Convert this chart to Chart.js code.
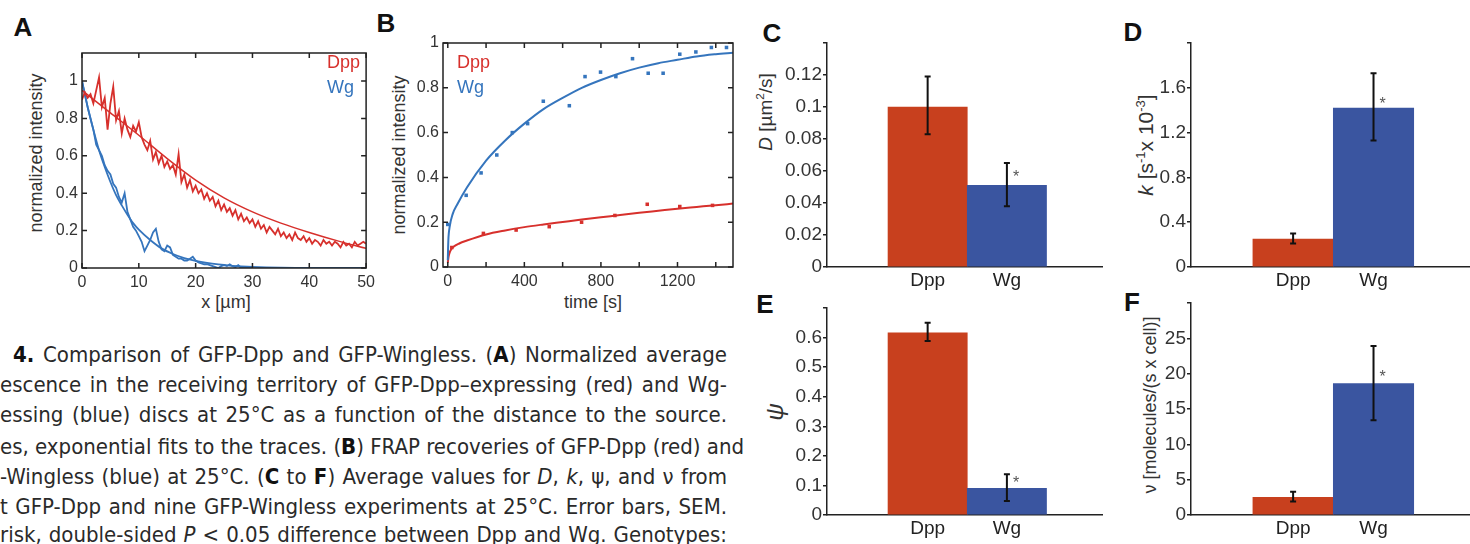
<!DOCTYPE html>
<html>
<head>
<meta charset="utf-8">
<script src="https://cdn.jsdelivr.net/npm/chart.js@4.4.1/dist/chart.umd.min.js"></script>
<style>
  body { margin: 0; width: 1470px; height: 544px; overflow: hidden; background: #fff; position: relative;
         font-family: 'Liberation Sans', Arial, sans-serif; }
  canvas { position: absolute; }
  .lbl { position: absolute; font-weight: bold; font-size: 26px; color: #111; line-height: 1; transform: translate(-50%, -50%); }
  .ttl { position: absolute; white-space: nowrap; color: #333; line-height: 1; transform: translate(-50%, -50%); }
  .rot { transform: translate(-50%, -50%) rotate(-90deg); }
  .ttl sup { font-size: 0.62em; vertical-align: super; line-height: 0; }
  .cap { position: absolute; font-family: 'Liberation Sans Narrow', 'DejaVu Sans Condensed', sans-serif; font-size: 22px;
         color: #2a2a2a; white-space: nowrap; text-align: justify; text-align-last: justify; line-height: 26px; }
  .cap b { color: #111; }
</style>
</head>
<body>

<!-- panel letters -->
<div class="lbl" style="left:23px;top:27px">A</div>
<div class="lbl" style="left:386px;top:23px">B</div>
<div class="lbl" style="left:772px;top:33px">C</div>
<div class="lbl" style="left:1133px;top:32px">D</div>
<div class="lbl" style="left:765px;top:304px">E</div>
<div class="lbl" style="left:1132px;top:302px">F</div>

<!-- axis titles -->
<div class="ttl rot" style="left:36px;top:153px;font-size:18px">normalized intensity</div>
<div class="ttl rot" style="left:399px;top:155px;font-size:18px">normalized intensity</div>
<div class="ttl" style="left:226px;top:302px;font-size:18px">x [µm]</div>
<div class="ttl" style="left:593px;top:302px;font-size:18px">time [s]</div>
<div class="ttl rot" style="left:765px;top:112px;font-size:19px"><i>D</i> [µm<sup>2</sup>/s]</div>
<div class="ttl rot" style="left:1145px;top:145px;font-size:21px"><i>k</i> [s<sup>-1</sup>x 10<sup>-3</sup>]</div>
<div class="ttl rot" style="left:775px;top:412px;font-size:24px"><i>ψ</i></div>
<div class="ttl rot" style="left:1150px;top:405px;font-size:18px">ν [molecules/(s x cell)]</div>

<!-- caption -->
<div class="cap" style="left:13px;top:342px;width:714px"><b>4.</b> Comparison of GFP-Dpp and GFP-Wingless. (<b>A</b>) Normalized average</div>
<div class="cap" style="left:0px;top:372px;width:727px">escence in the receiving territory of GFP-Dpp–expressing (red) and Wg-</div>
<div class="cap" style="left:0px;top:402px;width:727px">essing (blue) discs at 25°C as a function of the distance to the source.</div>
<div class="cap" style="left:0px;top:434px;width:727px">es, exponential fits to the traces. (<b>B</b>) FRAP recoveries of GFP-Dpp (red) and</div>
<div class="cap" style="left:0px;top:464px;width:727px">-Wingless (blue) at 25°C. (<b>C</b> to <b>F</b>) Average values for <i>D</i>, <i>k</i>, ψ, and ν from</div>
<div class="cap" style="left:0px;top:494px;width:727px">t GFP-Dpp and nine GFP-Wingless experiments at 25°C. Error bars, SEM.</div>
<div class="cap" style="left:0px;top:522px;width:727px">risk, double-sided <i>P</i> &lt; 0.05 difference between Dpp and Wg. Genotypes:</div>

<canvas id="chartA" width="380" height="300" style="left:0px;top:0px"></canvas>
<canvas id="chartB" width="370" height="300" style="left:380px;top:0px"></canvas>
<canvas id="chartC" width="365" height="300" style="left:740px;top:0px"></canvas>
<canvas id="chartD" width="370" height="300" style="left:1100px;top:0px"></canvas>
<canvas id="chartE" width="365" height="254" style="left:740px;top:290px"></canvas>
<canvas id="chartF" width="370" height="254" style="left:1100px;top:290px"></canvas>

<script>
// ---- Panel A: intensity profiles, sampled every 0.5 µm ----
const stepA = 0.5;
const dppTraceA = [0.90, 0.94, 0.91, 0.93, 0.88, 0.95, 1.02, 0.86, 0.91, 0.74, 0.88, 0.97, 0.79, 0.84, 0.72, 0.80,
  0.74, 0.70, 0.76, 0.73, 0.78, 0.70, 0.66, 0.63, 0.68, 0.58, 0.62, 0.56, 0.60, 0.54, 0.57, 0.53, 0.55, 0.50, 0.61,
  0.46, 0.50, 0.43, 0.47, 0.41, 0.44, 0.40, 0.42, 0.37, 0.40, 0.36, 0.38, 0.33, 0.36, 0.31, 0.34, 0.30, 0.32, 0.28,
  0.31, 0.26, 0.29, 0.25, 0.27, 0.24, 0.26, 0.22, 0.25, 0.21, 0.23, 0.19, 0.22, 0.20, 0.18, 0.21, 0.17, 0.19, 0.16,
  0.18, 0.15, 0.19, 0.16, 0.15, 0.17, 0.14, 0.16, 0.13, 0.15, 0.14, 0.12, 0.15, 0.13, 0.14, 0.12, 0.14, 0.13, 0.11,
  0.14, 0.12, 0.13, 0.11, 0.14, 0.12, 0.13, 0.14, 0.13];
const wgTraceA = [1.00, 0.93, 0.86, 0.80, 0.74, 0.66, 0.63, 0.60, 0.55, 0.52, 0.50, 0.45, 0.43, 0.38, 0.35, 0.40,
  0.30, 0.26, 0.22, 0.20, 0.17, 0.14, 0.09, 0.12, 0.15, 0.19, 0.21, 0.14, 0.10, 0.09, 0.12, 0.11, 0.07, 0.06, 0.05,
  0.05, 0.04, 0.04, 0.05, 0.06, 0.04, 0.03, 0.025, 0.02, 0.02, 0.015, 0.01, 0.005, 0.0, 0.01, 0.015, 0.01, 0.02,
  0.01, 0.005, 0.015, 0.0, 0.005, 0.0, 0.0, 0.005];
// exponential fits, read at a few positions
const dppFitXA = [0, 5, 10, 15, 20, 25, 30, 35, 40, 45, 50];
const dppFitYA = [0.95, 0.83, 0.71, 0.585, 0.47, 0.375, 0.30, 0.24, 0.19, 0.145, 0.105];
const wgFitXA = [0, 1, 2, 3, 4, 5, 6, 7, 8, 9, 10, 12, 14, 16, 18, 20, 22, 24, 26, 28, 30, 35, 40, 50];
const wgFitYA = [1.0, 0.86, 0.74, 0.63, 0.54, 0.46, 0.39, 0.335, 0.285, 0.24, 0.205, 0.15, 0.105, 0.075, 0.053,
  0.038, 0.027, 0.019, 0.013, 0.009, 0.006, 0.002, 0.001, 0];
const xTicksA = [0, 10, 20, 30, 40, 50];
const yTicksA = [0, 0.2, 0.4, 0.6, 0.8, 1];
const yLabelsA = ['0', '0.2', '0.4', '0.6', '0.8', '1'];

// ---- Panel B: FRAP recoveries ----
const wgTimeB = [0, 96, 174, 256, 337, 417, 499, 635, 717, 798, 878, 965, 1047, 1125, 1212, 1296, 1377, 1456];
const wgIntB = [0.19, 0.32, 0.42, 0.50, 0.60, 0.64, 0.74, 0.72, 0.85, 0.87, 0.85, 0.93, 0.865, 0.865, 0.95, 0.96, 0.98, 0.98];
const dppTimeB = [21, 186, 357, 530, 699, 873, 1042, 1212, 1383];
const dppIntB = [0.087, 0.15, 0.165, 0.18, 0.20, 0.23, 0.28, 0.27, 0.275];
const wgFitXB = [0, 3, 10, 25, 50, 100, 200, 300, 400, 500, 600, 700, 800, 900, 1000, 1100, 1200, 1300, 1400, 1490];
const wgFitYB = [0.03, 0.12, 0.18, 0.235, 0.28, 0.355, 0.475, 0.565, 0.64, 0.705, 0.755, 0.80, 0.835, 0.865, 0.89,
  0.91, 0.925, 0.94, 0.95, 0.957];
const dppFitXB = [0, 5, 15, 30, 60, 100, 200, 300, 400, 500, 600, 700, 800, 900, 1000, 1100, 1200, 1300, 1400, 1490];
const dppFitYB = [0.02, 0.05, 0.075, 0.09, 0.105, 0.118, 0.145, 0.163, 0.178, 0.19, 0.201, 0.212, 0.222, 0.232,
  0.242, 0.251, 0.26, 0.268, 0.276, 0.283];
const xTicksB = [0, 200, 400, 600, 800, 1000, 1200, 1400];
const xLabelsB = ['0', '', '400', '', '800', '', '1200', ''];
const yTicksB = [0, 0.2, 0.4, 0.6, 0.8, 1];
const yLabelsB = ['0', '0.2', '0.4', '0.6', '0.8', '1'];

// ---- Panels C-F: averages with SEM ----
const genotypes = ['Dpp', 'Wg'];
const barPos = [1, 2];

const dMean = [0.1, 0.051], dLow = [0.083, 0.038], dHigh = [0.119, 0.065], dStar = 0.058;
const dTicks = [0, 0.02, 0.04, 0.06, 0.08, 0.1, 0.12, 0.14];
const dLabels = ['0', '0.02', '0.04', '0.06', '0.08', '0.1', '0.12', ''];

const kMean = [0.25, 1.42], kLow = [0.21, 1.13], kHigh = [0.30, 1.73], kStar = 1.48;
const kTicks = [0, 0.2, 0.4, 0.6, 0.8, 1.0, 1.2, 1.4, 1.6, 1.8, 2.0];
const kLabels = ['0', '', '0.4', '', '0.8', '', '1.2', '', '1.6', '', ''];

const psiMean = [0.616, 0.09], psiLow = [0.588, 0.047], psiHigh = [0.65, 0.138], psiStar = 0.115;
const psiTicks = [0, 0.1, 0.2, 0.3, 0.4, 0.5, 0.6, 0.7];
const psiLabels = ['0', '0.1', '0.2', '0.3', '0.4', '0.5', '0.6', ''];

const nuMean = [2.5, 18.6], nuLow = [1.9, 13.4], nuHigh = [3.3, 23.9], nuStar = 19.8;
const nuTicks = [0, 5, 10, 15, 20, 25, 30];
const nuLabels = ['0', '5', '10', '15', '20', '25', ''];

const RED = '#d7302c';
const BLUE = '#3575bd';
const BAR_RED = '#c8401e';
const BAR_BLUE = '#3a55a0';
const INK = '#222';

Chart.defaults.font.family = "'Liberation Sans', Arial, sans-serif";
Chart.defaults.color = '#333';

const xy = (xs, ys) => ys.map((y, i) => ({ x: xs[i], y: y }));
const setTicks = vals => axis => { axis.ticks = vals.map(v => ({ value: v })); };

// matlab style box with inward ticks on all four sides
const boxTicks = {
  id: 'boxTicks',
  afterDatasetsDraw(chart) {
    const { ctx, chartArea: a, scales: { x, y } } = chart;
    const len = 5;
    ctx.save();
    ctx.strokeStyle = INK;
    ctx.lineWidth = 1.5;
    ctx.beginPath();
    x.ticks.forEach(t => {
      const px = x.getPixelForValue(t.value);
      ctx.moveTo(px, a.bottom); ctx.lineTo(px, a.bottom - len);
      ctx.moveTo(px, a.top); ctx.lineTo(px, a.top + len);
    });
    y.ticks.forEach(t => {
      const py = y.getPixelForValue(t.value);
      ctx.moveTo(a.left, py); ctx.lineTo(a.left + len, py);
      ctx.moveTo(a.right, py); ctx.lineTo(a.right - len, py);
    });
    ctx.stroke();
    ctx.strokeRect(a.left, a.top, a.right - a.left, a.bottom - a.top);
    ctx.restore();
  }
};

// coloured "Dpp" / "Wg" legend text inside the plot
function legendText(dx, dy) {
  return {
    id: 'legendText',
    afterDatasetsDraw(chart) {
      const { ctx, chartArea: a } = chart;
      ctx.save();
      ctx.font = "18px 'Liberation Sans', Arial, sans-serif";
      ctx.textAlign = 'left';
      ctx.textBaseline = 'middle';
      ctx.fillStyle = RED;
      ctx.fillText('Dpp', a.left + dx, a.top + dy);
      ctx.fillStyle = BLUE;
      ctx.fillText('Wg', a.left + dx, a.top + dy + 25);
      ctx.restore();
    }
  };
}

// SEM error bars and the significance asterisk
function errorBars(low, high, star) {
  return {
    id: 'errorBars',
    afterDatasetsDraw(chart) {
      const { ctx, scales: { x, y } } = chart;
      ctx.save();
      ctx.strokeStyle = '#111';
      ctx.lineWidth = 2;
      barPos.forEach((p, i) => {
        const px = x.getPixelForValue(p);
        const y1 = y.getPixelForValue(low[i]);
        const y2 = y.getPixelForValue(high[i]);
        ctx.beginPath();
        ctx.moveTo(px, y1); ctx.lineTo(px, y2);
        ctx.moveTo(px - 3, y1); ctx.lineTo(px + 3, y1);
        ctx.moveTo(px - 3, y2); ctx.lineTo(px + 3, y2);
        ctx.stroke();
      });
      ctx.fillStyle = '#555';
      ctx.font = "16px 'Liberation Sans', Arial, sans-serif";
      ctx.textAlign = 'left';
      ctx.textBaseline = 'middle';
      ctx.fillText('*', x.getPixelForValue(barPos[1]) + 6, y.getPixelForValue(star) + 3);
      ctx.restore();
    }
  };
}

function lineDataset(data, color, width, smooth) {
  return {
    data: data, showLine: true, borderColor: color, borderWidth: width, pointRadius: 0,
    cubicInterpolationMode: smooth ? 'monotone' : 'default', tension: 0
  };
}

function linePanel(id, datasets, cfg) {
  return new Chart(document.getElementById(id), {
    type: 'scatter',
    data: { datasets: datasets },
    options: {
      responsive: false,
      animation: false,
      layout: { padding: { left: 0, top: cfg.top, right: cfg.right, bottom: 0 } },
      plugins: { legend: { display: false }, tooltip: { enabled: false } },
      scales: {
        x: {
          type: 'linear', min: cfg.xMin, max: cfg.xMax,
          grid: { display: false, drawTicks: false }, border: { display: false },
          ticks: { padding: 5, autoSkip: false, maxRotation: 0, font: { size: 16 },
                   callback: (v, i) => cfg.xLabels[i] },
          afterBuildTicks: setTicks(cfg.xTicks),
          afterFit: s => { s.height = cfg.xHeight; }
        },
        y: {
          min: 0, max: cfg.yMax,
          grid: { display: false, drawTicks: false }, border: { display: false },
          ticks: { padding: 4, font: { size: 16 }, callback: (v, i) => cfg.yLabels[i] },
          afterBuildTicks: setTicks(cfg.yTicks),
          afterFit: s => { s.width = cfg.yWidth; }
        }
      }
    },
    plugins: [boxTicks, legendText(cfg.legX, cfg.legY)]
  });
}

function barPanel(id, mean, low, high, star, yTicks, yLabels, cfg) {
  return new Chart(document.getElementById(id), {
    type: 'bar',
    data: {
      datasets: [{
        data: xy(barPos, mean),
        backgroundColor: [BAR_RED, BAR_BLUE],
        borderWidth: 0,
        barPercentage: 1,
        categoryPercentage: 1
      }]
    },
    options: {
      responsive: false,
      animation: false,
      layout: { padding: { left: 0, top: cfg.top, right: cfg.right, bottom: 0 } },
      plugins: { legend: { display: false }, tooltip: { enabled: false } },
      scales: {
        x: {
          type: 'linear', min: -0.27, max: 3.2, offset: false,
          grid: { display: false, drawTicks: false },
          border: { display: true, color: INK, width: 1.5 },
          ticks: { padding: 2, autoSkip: false, maxRotation: 0, color: INK, font: { size: 19 },
                   callback: (v, i) => genotypes[i] },
          afterBuildTicks: setTicks(barPos),
          afterFit: s => { s.height = cfg.xHeight; }
        },
        y: {
          min: 0, max: yTicks[yTicks.length - 1],
          grid: { display: true, drawOnChartArea: false, drawTicks: true, tickLength: 4, color: INK, lineWidth: 1.5 },
          border: { display: true, color: INK, width: 1.5 },
          ticks: { padding: 1, font: { size: 19 }, callback: (v, i) => yLabels[i] },
          afterBuildTicks: setTicks(yTicks),
          afterFit: s => { s.width = cfg.yWidth; }
        }
      }
    },
    plugins: [errorBars(low, high, star)]
  });
}

// Panel A
linePanel('chartA', [
  lineDataset(xy(dppTraceA.map((v, i) => i * stepA), dppTraceA), RED, 1.8, false),
  lineDataset(xy(dppFitXA, dppFitYA), RED, 1.5, true),
  lineDataset(xy(wgTraceA.map((v, i) => i * stepA), wgTraceA), BLUE, 1.8, false),
  lineDataset(xy(wgFitXA, wgFitYA), BLUE, 1.8, true)
], { top: 53, right: 10, xMin: 0, xMax: 50, yMax: 1.15, xHeight: 32, yWidth: 82,
     xTicks: xTicksA, xLabels: xTicksA.map(String), yTicks: yTicksA, yLabels: yLabelsA, legX: 245, legY: 10 });

// Panel B
linePanel('chartB', [
  { data: xy(wgTimeB, wgIntB), backgroundColor: BLUE, borderWidth: 0, pointStyle: 'rect', pointRadius: 2.5 },
  { data: xy(dppTimeB, dppIntB), backgroundColor: RED, borderWidth: 0, pointStyle: 'rect', pointRadius: 2.5 },
  lineDataset(xy(wgFitXB, wgFitYB), BLUE, 2, true),
  lineDataset(xy(dppFitXB, dppFitYB), RED, 2, true)
], { top: 43, right: 17, xMin: -25, xMax: 1490, yMax: 1, xHeight: 33, yWidth: 63,
     xTicks: xTicksB, xLabels: xLabelsB, yTicks: yTicksB, yLabels: yLabelsB, legX: 14, legY: 20 });

// Panels C-F
barPanel('chartC', dMean, dLow, dHigh, dStar, dTicks, dLabels, { top: 43, right: 3, xHeight: 33, yWidth: 87 });
barPanel('chartD', kMean, kLow, kHigh, kStar, kTicks, kLabels, { top: 43, right: 0, xHeight: 33, yWidth: 91 });
barPanel('chartE', psiMean, psiLow, psiHigh, psiStar, psiTicks, psiLabels, { top: 18, right: 3, xHeight: 29, yWidth: 87 });
barPanel('chartF', nuMean, nuLow, nuHigh, nuStar, nuTicks, nuLabels, { top: 13, right: 0, xHeight: 29, yWidth: 91 });
</script>
</body>
</html>
